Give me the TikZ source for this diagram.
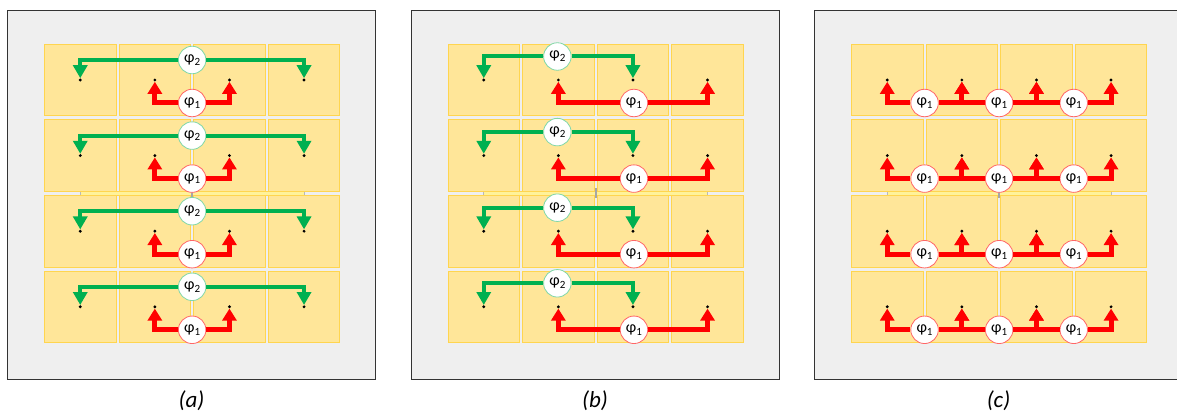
\documentclass[tikz,border=0pt]{standalone}
\usepackage{fontspec}
\setmainfont{Carlito}
\usetikzlibrary{arrows.meta,positioning,calc}
\definecolor{framegrey}{HTML}{EFEFEF}
\definecolor{frameline}{HTML}{333333}
\definecolor{cellfill}{HTML}{FFE699}
\definecolor{celledge}{HTML}{FFD54F}
\definecolor{stripfill}{HTML}{FFF29A}
\definecolor{phigreen}{HTML}{00B050}
\definecolor{phired}{HTML}{FF0000}
\newcommand{\philab}[1]{{\fontsize{16}{16}\selectfont φ}\raisebox{-2.8pt}{\fontsize{11}{11}\selectfont #1}}

\begin{document}
\begin{tikzpicture}[
    x=1pt, y=-1pt,
    panel/.style={rectangle, draw=frameline, fill=framegrey, line width=1pt,
        minimum width=368pt, minimum height=368pt, inner sep=0pt},
    cell/.style={rectangle, draw=celledge, fill=cellfill, line width=0.8pt,
        minimum width=71.5pt, minimum height=71.5pt, inner sep=0pt},
    dotmark/.style={circle, fill=black, minimum size=3.2pt, inner sep=0pt},
    gcirc/.style={circle, draw=phigreen!50, fill=white, line width=0.8pt,
        minimum size=27.5pt, inner sep=0pt},
    rcirc/.style={circle, draw=phired!60, fill=white, line width=0.8pt,
        minimum size=27.5pt, inner sep=0pt},
    garrow/.style={draw=phigreen, line width=4pt, -{Triangle[width=14pt,length=13pt]}},
    rarrow/.style={draw=phired, line width=5pt, -{Triangle[width=14pt,length=12pt]}},
    caption/.style={font=\fontsize{23}{23}\selectfont\itshape}
]
\useasboundingbox (0,0) rectangle (1177,414);

% frames, strips and cells
\foreach \p/\ox in {a/7.5, b/411, c/814.5} {
  \node[panel] (frame-\p) at ({\ox+184},195) {};
  \node[caption] (cap-\p) at ({\ox+184},401) {(\p)};
  \filldraw[fill=stripfill, draw=celledge, line width=0.6pt]
      ({\ox+72.75},191.3) rectangle ({\ox+296.55},195);
  \draw[gray!55, line width=1pt] ({\ox+72.75},190.5) -- ({\ox+72.75},195.5)
      ({\ox+296.55},190.5) -- ({\ox+296.55},195.5);
  \fill[gray!70] ({\ox+183.6},188) rectangle ({\ox+185.6},198);
  \foreach \r in {1,...,4} {
    \foreach \c in {1,...,4} {
      \node[cell] (cell-\p-\r-\c) at ({\ox+72.75+74.6*(\c-1)},{80+75.6*(\r-1)}) {};
      \node[dotmark] (dot-\p-\r-\c) at (cell-\p-\r-\c.center) {};
    }
  }
}

% (a)
\foreach \r in {1,...,4} {
  \node[gcirc] (g-a-\r) at ($(dot-a-\r-2)!0.5!(dot-a-\r-3)+(0,-20)$) {\philab{2}};
  \node[rcirc] (r-a-\r) at ($(dot-a-\r-2)!0.5!(dot-a-\r-3)+(0,23)$) {\philab{1}};
  \draw[garrow] (g-a-\r.west) -| (dot-a-\r-1);
  \draw[garrow] (g-a-\r.east) -| (dot-a-\r-4);
  \draw[rarrow] (r-a-\r.west) -| (dot-a-\r-2);
  \draw[rarrow] (r-a-\r.east) -| (dot-a-\r-3);
}

% (b)
\foreach \r in {1,...,4} {
  \node[gcirc] (g-b-\r) at ($(dot-b-\r-2)+(-1,-23.5)$) {\philab{2}};
  \node[rcirc] (r-b-\r) at ($(dot-b-\r-3)+(1,23)$) {\philab{1}};
  \draw[garrow] (g-b-\r.west) -| (dot-b-\r-1);
  \draw[garrow] (g-b-\r.east) -| (dot-b-\r-3);
  \draw[rarrow] (r-b-\r.west) -| (dot-b-\r-2);
  \draw[rarrow] (r-b-\r.east) -| (dot-b-\r-4);
}

% (c)
\foreach \r in {1,...,4} {
  \foreach \k [evaluate=\k as \n using int(\k+1)] in {1,2,3} {
    \node[rcirc] (r-c-\r-\k) at ($(dot-c-\r-\k)!0.5!(dot-c-\r-\n)+(0,23)$) {\philab{1}};
    \draw[rarrow] (r-c-\r-\k.west) -| (dot-c-\r-\k);
    \draw[rarrow] (r-c-\r-\k.east) -| (dot-c-\r-\n);
  }
}
\end{tikzpicture}
\end{document}
